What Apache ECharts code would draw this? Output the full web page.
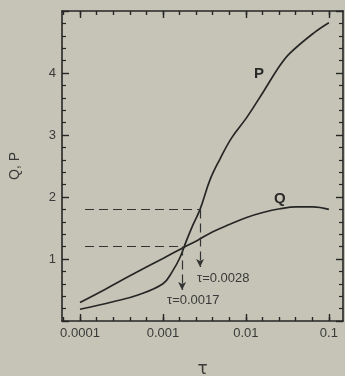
<!DOCTYPE html>
<html><head><meta charset="utf-8">
<script src="https://cdn.jsdelivr.net/npm/echarts@6/dist/echarts.min.js"></script>
<style>html,body{margin:0;padding:0;background:#c5c4b6}#c{width:345px;height:376px}</style>
</head><body><div id="c"></div>
<script>
// ---- data ----
const tauP = [0.0001, 0.00025, 0.0005, 0.001, 0.0013, 0.0016, 0.0019, 0.0023, 0.0028, 0.0037, 0.0049, 0.0067, 0.0102, 0.0161, 0.0257, 0.034, 0.065, 0.1];
const valuesP = [0.19, 0.31, 0.42, 0.60, 0.80, 1.02, 1.28, 1.55, 1.80, 2.28, 2.62, 2.95, 3.28, 3.69, 4.12, 4.32, 4.64, 4.81];
const tauQ = [0.0001, 0.0002, 0.0004, 0.001, 0.0018, 0.0026, 0.004, 0.0064, 0.0102, 0.016, 0.0257, 0.041, 0.064, 0.1];
const valuesQ = [0.30, 0.51, 0.73, 1.01, 1.19, 1.30, 1.44, 1.56, 1.67, 1.75, 1.81, 1.84, 1.84, 1.80];
const xTickTau = [0.0001, 0.001, 0.01, 0.1];
const xTickLabels = ['0.0001', '0.001', '0.01', '0.1'];
const yTickValues = [1, 2, 3, 4];
const yTickLabels = ['1', '2', '3', '4'];
const guideTau = [0.0017, 0.0028];
const guideLevel = [1.2, 1.8];
const guideArrowTo = [0.5, 0.87];
const guideFromTau = 0.000115;
const tauRange = [6.07e-5, 0.148];
const yRange = [0, 5];
const annotations = ['P', 'Q', 'τ=0.0028', 'τ=0.0017'];

// ---- build ----
const lg = Math.log10;
const xMin = lg(tauRange[0]), xMax = lg(tauRange[1]);
const majorX = xTickTau.map(lg);
const minorX = [];
for (let k = Math.ceil(xMin * 5); k <= Math.floor(xMax * 5); k++) minorX.push(Math.round(k * 20) / 100);

const ink = '#262626';
const txt = '#3a3a3a';
const font = 'Liberation Sans, Arial, sans-serif';
function gridRect() { return {left: 62, top: 11, width: 281, height: 310, outerBoundsMode: 'none', containLabel: false}; }

function xLabel(v) {
  const i = majorX.findIndex(m => Math.abs(m - v) < 1e-6);
  return i >= 0 ? xTickLabels[i] : '';
}
function yLabel(v) {
  const i = yTickValues.findIndex(m => Math.abs(m - v) < 1e-6);
  return i >= 0 ? yTickLabels[i] : '';
}

function axLine(show) { return {show: show, onZero: false, lineStyle: {color: ink, width: 1.6}}; }
function xAx(grid, pos, vals, len, labels) {
  return {
    type: 'value', gridIndex: grid, position: pos, min: xMin, max: xMax,
    axisLine: axLine(grid === 0),
    axisTick: {show: true, inside: true, length: len, customValues: vals, lineStyle: {color: ink, width: 1.4}},
    axisLabel: labels ? {show: true, customValues: majorX, formatter: xLabel, color: txt, fontSize: 13, fontFamily: font, margin: 6} : {show: false},
    splitLine: {show: false},
    name: labels ? 'τ' : '', nameLocation: 'middle', nameGap: 40,
    nameTextStyle: {fontSize: 17, color: txt, fontFamily: 'DejaVu Sans'}
  };
}
function yAx(grid, pos, labels) {
  const main = grid === 0;
  return {
    type: 'value', gridIndex: grid, position: pos, min: yRange[0], max: yRange[1], interval: 1,
    axisLine: axLine(main),
    axisTick: {show: main, inside: true, length: 7, lineStyle: {color: ink, width: 1.4}},
    minorTick: {show: main, splitNumber: 5, length: 4, lineStyle: {color: ink, width: 1.2}},
    axisLabel: labels ? {show: true, formatter: yLabel, color: txt, fontSize: 13, fontFamily: font, margin: 6} : {show: false},
    splitLine: {show: false},
    name: labels ? 'Q, P' : '', nameLocation: 'middle', nameGap: 40, nameRotate: 90,
    nameTextStyle: {fontSize: 14, color: txt, fontFamily: font}
  };
}

const dash = {color: '#333', width: 1.2, type: [9, 5]};
const guideLines = [];
for (let i = 0; i < guideTau.length; i++) {
  guideLines.push([{coord: [lg(guideFromTau), guideLevel[i]], symbol: 'none'},
                   {coord: [lg(guideTau[i]), guideLevel[i]], symbol: 'none'}]);
  guideLines.push([{coord: [lg(guideTau[i]), guideLevel[i]], symbol: 'none'},
                   {coord: [lg(guideTau[i]), guideArrowTo[i]], symbol: 'arrow', symbolSize: [6, 8]}]);
}

const option = {
  backgroundColor: '#c5c4b6',
  animation: false,
  grid: [gridRect(), gridRect()],
  xAxis: [
    xAx(0, 'bottom', minorX, 4, true),
    xAx(0, 'top', minorX, 4, false),
    xAx(1, 'bottom', majorX, 7, false),
    xAx(1, 'top', majorX, 7, false)
  ],
  yAxis: [yAx(0, 'left', true), yAx(0, 'right', false), yAx(1, 'left', false), yAx(1, 'right', false)],
  series: [
    {type: 'line', xAxisIndex: 0, yAxisIndex: 0, data: tauP.map((t, i) => [lg(t), valuesP[i]]),
     smooth: 0.4, showSymbol: false, lineStyle: {color: ink, width: 1.7}, z: 3},
    {type: 'line', xAxisIndex: 0, yAxisIndex: 0, data: tauQ.map((t, i) => [lg(t), valuesQ[i]]),
     smooth: 0.4, showSymbol: false, lineStyle: {color: ink, width: 1.7}, z: 3,
     markLine: {silent: true, symbol: 'none', label: {show: false}, lineStyle: dash, data: guideLines,
                itemStyle: {color: '#333'}}}
  ],
  graphic: [
    {type: 'text', left: 254, top: 66, style: {text: annotations[0], fontSize: 15, fontWeight: 'bold', fill: '#2a2a2a', fontFamily: font}},
    {type: 'text', left: 274, top: 191, style: {text: annotations[1], fontSize: 15, fontWeight: 'bold', fill: '#2a2a2a', fontFamily: font}},
    {type: 'text', left: 197, top: 272, style: {text: annotations[2], fontSize: 13, fill: txt, fontFamily: font}},
    {type: 'text', left: 167, top: 294, style: {text: annotations[3], fontSize: 13, fill: txt, fontFamily: font}}
  ]
};
const chart = echarts.init(document.getElementById('c'), null, {renderer: 'canvas'});
chart.setOption(option);
</script></body></html>
